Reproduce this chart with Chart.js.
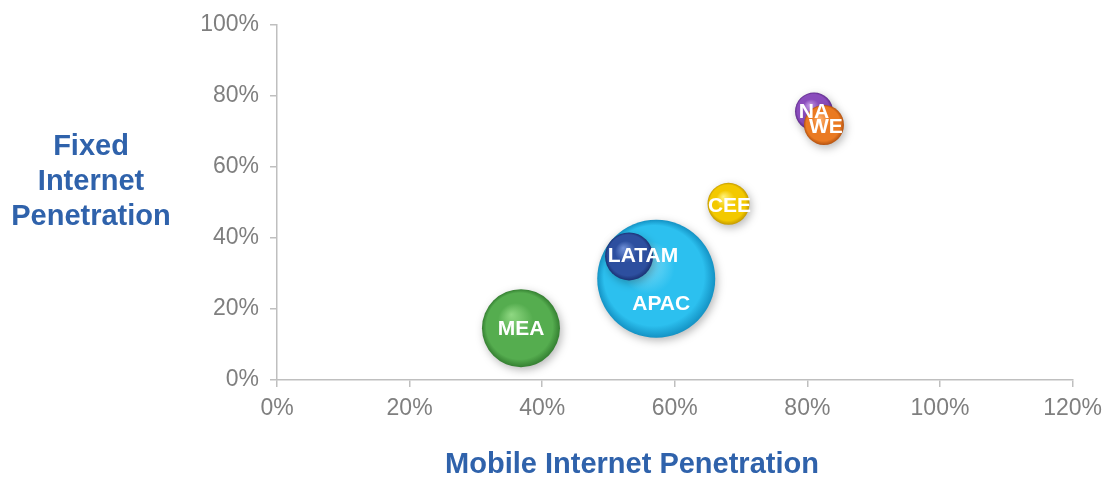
<!DOCTYPE html>
<html>
<head>
<meta charset="utf-8">
<script src="https://cdn.jsdelivr.net/npm/chart.js@4.4.1/dist/chart.umd.min.js"></script>
<style>
  html, body { margin: 0; padding: 0; background: #ffffff; }
  #wrap { width: 1110px; height: 480px; position: relative; }
</style>
</head>
<body>
<div id="wrap"><canvas id="bubbleChart" width="1110" height="480"></canvas></div>
<script>
// Dados do gráfico
const regions = ['MEA', 'APAC', 'LATAM', 'CEE', 'NA', 'WE'];
const mobilePen = [36.8, 57.2, 53.1, 68.1, 81.0, 82.5];
const fixedPen = [14.6, 28.5, 34.8, 49.6, 75.6, 71.8];
const bubbleSize = [39, 59, 24, 21, 19, 20];
const xTicks = [0, 20, 40, 60, 80, 100, 120];
const yTicks = [0, 20, 40, 60, 80, 100];

// Cores (claro, base, escuro)
const bubbleColors = [
  ['#8fd882', '#55ad4f', '#347f31'],
  ['#8fe3fb', '#2cc0ef', '#1492c4'],
  ['#6f8fd6', '#2d4f9f', '#1a3173'],
  ['#fff27a', '#f3c900', '#c49a00'],
  ['#c59ae6', '#8a4cbc', '#5f2b8c'],
  ['#ffb474', '#ea7a22', '#b45210']
];
// deslocamento dos rótulos em relação ao centro
const labelShift = [[0, 1], [5, 25], [14, 0], [1, 2], [0, 1], [2, 2]];

const gray = '#bfbfbf';
const titleBlue = '#2f62ab';

function sphereFill(context) {
  const chart = context.chart;
  const i = context.dataIndex;
  if (i === undefined || !chart.chartArea) return bubbleColors[0][1];
  const cx = chart.scales.x.getPixelForValue(mobilePen[i]);
  const cy = chart.scales.y.getPixelForValue(fixedPen[i]);
  const r = bubbleSize[i];
  const c = bubbleColors[i];
  const g = chart.ctx.createRadialGradient(cx - r * 0.25, cy - r * 0.35, 0, cx, cy, r);
  g.addColorStop(0, c[0]);
  g.addColorStop(0.45, c[1]);
  g.addColorStop(0.85, c[1]);
  g.addColorStop(1, c[2]);
  return g;
}

// sombra suave sob as bolhas
const shadowPlugin = {
  id: 'shadow',
  beforeDatasetDraw(chart) {
    const ctx = chart.ctx;
    ctx.save();
    ctx.shadowColor = 'rgba(0,0,0,0.28)';
    ctx.shadowBlur = 8;
    ctx.shadowOffsetX = 2;
    ctx.shadowOffsetY = 3;
  },
  afterDatasetDraw(chart) {
    chart.ctx.restore();
  }
};

// rótulos brancos dentro das bolhas + títulos dos eixos
const labelPlugin = {
  id: 'labels',
  afterDatasetsDraw(chart) {
    const ctx = chart.ctx;
    const meta = chart.getDatasetMeta(0);
    ctx.save();
    ctx.font = 'bold 21px "Liberation Sans", Arial, sans-serif';
    ctx.fillStyle = '#ffffff';
    ctx.textAlign = 'center';
    ctx.textBaseline = 'middle';
    meta.data.forEach((pt, i) => {
      ctx.fillText(regions[i], pt.x + labelShift[i][0], pt.y + labelShift[i][1]);
    });
    ctx.restore();
  },
  afterDraw(chart) {
    const ctx = chart.ctx;
    ctx.save();
    ctx.font = 'bold 29px "Liberation Sans", Arial, sans-serif';
    ctx.fillStyle = titleBlue;
    ctx.textAlign = 'center';
    ctx.textBaseline = 'middle';
    ctx.fillText('Mobile Internet Penetration', 632, 465);
    ['Fixed', 'Internet', 'Penetration'].forEach((t, k) => {
      ctx.fillText(t, 91, 147 + k * 35);
    });
    ctx.restore();
  }
};

Chart.defaults.font.family = '"Liberation Sans", Arial, sans-serif';

new Chart(document.getElementById('bubbleChart').getContext('2d'), {
  type: 'bubble',
  data: {
    datasets: [{
      label: 'Regiões',
      data: regions.map((r, i) => ({ x: mobilePen[i], y: fixedPen[i], r: bubbleSize[i] })),
      backgroundColor: sphereFill,
      borderWidth: 0,
      hoverRadius: 0,
      clip: false
    }]
  },
  options: {
    responsive: false,
    animation: false,
    devicePixelRatio: 1,
    layout: { autoPadding: false, padding: { top: 15, right: 33, left: 0, bottom: 0 } },
    plugins: {
      legend: { display: false },
      tooltip: { enabled: false }
    },
    scales: {
      x: {
        type: 'linear',
        min: 0,
        max: 120,
        afterFit(scale) { scale.height = 100; },
        afterBuildTicks(scale) { scale.ticks = xTicks.map(v => ({ value: v })); },
        border: { color: gray, width: 1.5 },
        grid: { drawOnChartArea: false, drawTicks: true, tickLength: 7, color: gray, lineWidth: 1.5 },
        ticks: {
          color: '#7f7f7f',
          font: { size: 23 },
          padding: 8,
          maxRotation: 0,
          callback: v => v + '%'
        }
      },
      y: {
        type: 'linear',
        min: 0,
        max: 100,
        afterFit(scale) { scale.width = 277; },
        afterBuildTicks(scale) { scale.ticks = yTicks.map(v => ({ value: v })); },
        border: { color: gray, width: 1.5 },
        grid: { drawOnChartArea: false, drawTicks: true, tickLength: 7, color: gray, lineWidth: 1.5 },
        ticks: {
          color: '#7f7f7f',
          font: { size: 23 },
          padding: 11,
          callback: v => v + '%'
        }
      }
    }
  },
  plugins: [shadowPlugin, labelPlugin]
});
</script>
</body>
</html>
